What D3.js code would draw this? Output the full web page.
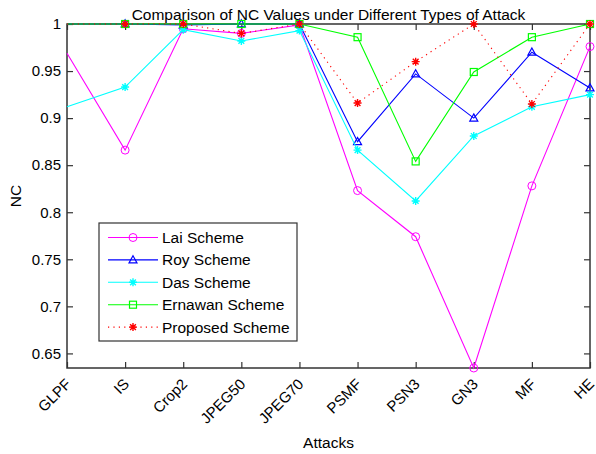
<!DOCTYPE html>
<html>
<head>
<meta charset="utf-8">
<script src="https://cdn.jsdelivr.net/npm/d3@7"></script>
<style>
  html, body { margin: 0; padding: 0; background: #fff; }
  svg { display: block; font-family: "Liberation Sans", Arial, Helvetica, sans-serif; }
</style>
</head>
<body>
<svg id="chart" width="596" height="454"></svg>
<script>
// Attack types along the x axis
const attacks = ["GLPF", "IS", "Crop2", "JPEG50", "JPEG70", "PSMF", "PSN3", "GN3", "MF", "HE"];

// NC values per scheme, one entry per attack
const laiValues      = [0.969, 0.866, 0.995, 0.990, 0.999, 0.823, 0.774, 0.6345, 0.828, 0.976];
const royValues      = [1.000, 1.000, 0.999, 1.000, 1.000, 0.875, 0.947, 0.900, 0.970, 0.932];
const dasValues      = [0.912, 0.933, 0.994, 0.982, 0.993, 0.866, 0.812, 0.881, 0.912, 0.925];
const ernawanValues  = [1.000, 1.000, 1.000, 1.000, 1.000, 0.986, 0.854, 0.949, 0.986, 1.000];
const proposedValues = [1.000, 1.000, 1.000, 0.990, 1.000, 0.916, 0.960, 1.000, 0.915, 1.000];

const yTicks = [0.65, 0.7, 0.75, 0.8, 0.85, 0.9, 0.95, 1];
const yTickLabels = ["0.65", "0.7", "0.75", "0.8", "0.85", "0.9", "0.95", "1"];

const seriesNames = ["Lai Scheme", "Roy Scheme", "Das Scheme", "Ernawan Scheme", "Proposed Scheme"];

const series = [
  { name: seriesNames[0], values: laiValues,      color: "#ff00ff", marker: "circle",   dash: null },
  { name: seriesNames[1], values: royValues,      color: "#0000ff", marker: "triangle", dash: null },
  { name: seriesNames[2], values: dasValues,      color: "#00ffff", marker: "star",     dash: null },
  { name: seriesNames[3], values: ernawanValues,  color: "#00ff00", marker: "square",   dash: null },
  { name: seriesNames[4], values: proposedValues, color: "#ff0000", marker: "star",     dash: "1.2,4.2" }
];

const plot = { left: 67, right: 590, top: 24, bottom: 368 };

const svg = d3.select("#chart");

const x = d3.scalePoint().domain(attacks).range([plot.left, plot.right]);
const yMin = d3.min(series, s => d3.min(s.values));
const y = d3.scaleLinear().domain([yMin, 1]).range([plot.bottom, plot.top]);

const axisColor = "#333";

// Title
svg.append("text")
  .attr("x", (plot.left + plot.right) / 2)
  .attr("y", 20)
  .attr("text-anchor", "middle")
  .attr("font-size", 15.5)
  .attr("fill", "#000")
  .text("Comparison of NC Values under Different Types of Attack");

// Axis labels
svg.append("text")
  .attr("x", (plot.left + plot.right) / 2)
  .attr("y", 448)
  .attr("text-anchor", "middle")
  .attr("font-size", 15.5)
  .text("Attacks");

svg.append("text")
  .attr("transform", `translate(21, ${(plot.top + plot.bottom) / 2}) rotate(-90)`)
  .attr("text-anchor", "middle")
  .attr("font-size", 15.5)
  .text("NC");

// Axes: left and bottom with tick labels, top and right mirrored ticks (inward)
const tickLen = 6;
const gAxes = svg.append("g");

const leftAxis = d3.axisLeft(y).tickValues(yTicks)
  .tickFormat((d, i) => yTickLabels[i]).tickSizeInner(-tickLen).tickSizeOuter(0).tickPadding(6);
const gLeft = gAxes.append("g").attr("transform", `translate(${plot.left},0)`).call(leftAxis);
gLeft.selectAll("text").attr("font-size", 15).attr("fill", "#000")
  .attr("font-family", "'Liberation Sans', Arial, sans-serif");

const rightAxis = d3.axisRight(y).tickValues(yTicks).tickFormat("").tickSizeInner(-tickLen).tickSizeOuter(0);
gAxes.append("g").attr("transform", `translate(${plot.right},0)`).call(rightAxis);

const bottomAxis = d3.axisBottom(x).tickSizeInner(-tickLen).tickSizeOuter(0).tickFormat("");
gAxes.append("g").attr("transform", `translate(0,${plot.bottom})`).call(bottomAxis);

const topAxis = d3.axisTop(x).tickSizeInner(-tickLen).tickSizeOuter(0).tickFormat("");
gAxes.append("g").attr("transform", `translate(0,${plot.top})`).call(topAxis);

gAxes.selectAll(".domain").remove();
gAxes.selectAll(".tick line").attr("stroke", axisColor).attr("stroke-width", 1.2);

// Rotated category labels
svg.append("g").selectAll("text")
  .data(attacks)
  .join("text")
  .attr("transform", d => `translate(${x(d) + 5},${plot.bottom + 17}) rotate(-45)`)
  .attr("text-anchor", "end")
  .attr("font-size", 15)
  .attr("fill", "#000")
  .text(d => d);

// Box around the plot
svg.append("rect")
  .attr("x", plot.left).attr("y", plot.top)
  .attr("width", plot.right - plot.left).attr("height", plot.bottom - plot.top)
  .attr("fill", "none").attr("stroke", axisColor).attr("stroke-width", 1.5);

// Marker drawing
function drawMarker(g, type, cx, cy, color) {
  if (type === "circle") {
    g.append("circle").attr("cx", cx).attr("cy", cy).attr("r", 4)
      .attr("fill", "none").attr("stroke", color).attr("stroke-width", 1);
  } else if (type === "square") {
    g.append("rect").attr("x", cx - 3.5).attr("y", cy - 3.5).attr("width", 7).attr("height", 7)
      .attr("fill", "none").attr("stroke", color).attr("stroke-width", 1.2);
  } else if (type === "triangle") {
    const r = 4.2;
    g.append("path")
      .attr("d", `M${cx},${cy - r}L${cx + r * 0.95},${cy + r * 0.7}L${cx - r * 0.95},${cy + r * 0.7}Z`)
      .attr("fill", "none").attr("stroke", color).attr("stroke-width", 1.2);
  } else if (type === "star") {
    const r = 4, d = r * 0.72;
    g.append("path")
      .attr("d", `M${cx - r},${cy}L${cx + r},${cy}M${cx},${cy - r}L${cx},${cy + r}` +
                 `M${cx - d},${cy - d}L${cx + d},${cy + d}M${cx - d},${cy + d}L${cx + d},${cy - d}`)
      .attr("fill", "none").attr("stroke", color).attr("stroke-width", 1.4);
  }
}

// Series lines and markers (first attack point sits on the axis edge, unmarked)
const firstMarked = 1;
const line = d3.line().x((d, i) => x(attacks[i])).y(d => y(d));
const gSeries = svg.append("g");
series.forEach(s => {
  gSeries.append("path")
    .attr("d", line(s.values))
    .attr("fill", "none")
    .attr("stroke", s.color)
    .attr("stroke-width", 1.1)
    .attr("stroke-dasharray", s.dash);
  const gm = gSeries.append("g");
  s.values.forEach((v, i) => {
    if (i >= firstMarked) drawMarker(gm, s.marker, x(attacks[i]), y(v), s.color);
  });
});

// Legend
const legend = { x: 99, y: 223, w: 198, h: 118 };
const gLeg = svg.append("g");
gLeg.append("rect")
  .attr("x", legend.x).attr("y", legend.y).attr("width", legend.w).attr("height", legend.h)
  .attr("fill", "#fff").attr("stroke", axisColor).attr("stroke-width", 1.2);
series.forEach((s, i) => {
  const cy = legend.y + 14.5 + i * 22.4;
  gLeg.append("line")
    .attr("x1", legend.x + 9).attr("x2", legend.x + 59)
    .attr("y1", cy).attr("y2", cy)
    .attr("stroke", s.color).attr("stroke-width", 1.1)
    .attr("stroke-dasharray", s.dash);
  drawMarker(gLeg, s.marker, legend.x + 34, cy, s.color);
  gLeg.append("text")
    .attr("x", legend.x + 63).attr("y", cy)
    .attr("dy", "0.36em")
    .attr("font-size", 15.5)
    .attr("fill", "#000")
    .text(s.name);
});
</script>
</body>
</html>
